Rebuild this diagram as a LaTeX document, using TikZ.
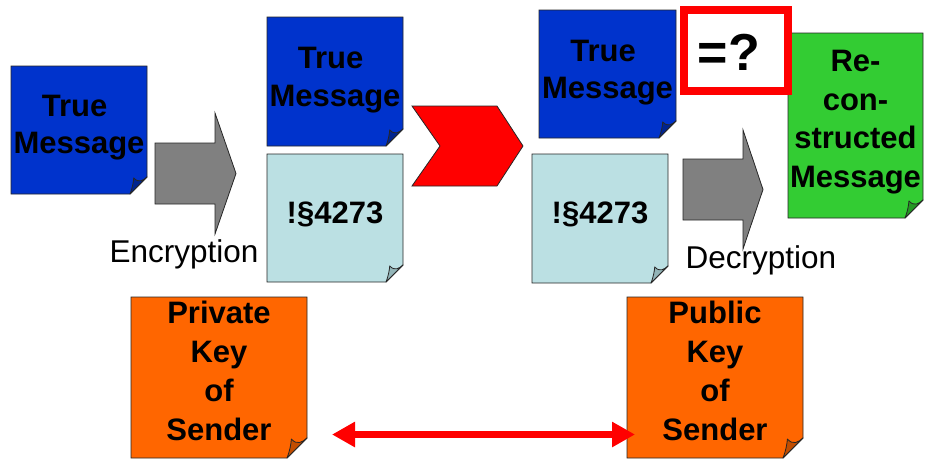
\documentclass[tikz,border=0pt]{standalone}
\usepackage{fontspec}
\setmainfont{Liberation Sans}
\usetikzlibrary{arrows.meta,calc}

\definecolor{msgblue}{HTML}{0033CC}
\definecolor{msgblueflap}{HTML}{00248F}
\definecolor{cipher}{HTML}{BBE0E3}
\definecolor{cipherflap}{HTML}{93B5B8}
\definecolor{recgreen}{HTML}{33CC33}
\definecolor{recgreenflap}{HTML}{239923}
\definecolor{keyorange}{HTML}{FF6600}
\definecolor{keyorangeflap}{HTML}{C24D00}
\definecolor{arrowgray}{HTML}{808080}
\definecolor{alertred}{HTML}{FF0000}

% Sticky note with a curled lower right corner, drawn round an (empty) node
% #1 node name, #2 fill, #3 curl fill, #4 curl size
\newcommand{\foldednote}[4]{%
  \filldraw[notefill=#2] (#1.north west) -- (#1.north east)
    -- ([yshift=#4]#1.south east) -- ([xshift=-#4]#1.south east)
    -- (#1.south west) -- cycle;
  \filldraw[notefill=#3, line join=round] ([xshift=-#4]#1.south east)
    .. controls ([xshift=-0.86*#4,yshift=0.35*#4]#1.south east)
            and ([xshift=-0.8*#4,yshift=0.7*#4]#1.south east)
    .. ([xshift=-0.78*#4,yshift=0.95*#4]#1.south east)
    .. controls ([xshift=-0.5*#4,yshift=0.62*#4]#1.south east)
            and ([xshift=-0.22*#4,yshift=0.8*#4]#1.south east)
    .. ([yshift=#4]#1.south east) -- cycle;
}

\begin{document}
\begin{tikzpicture}[x=1pt,y=-1pt,
  notefill/.style={fill=#1, draw=black!85, line width=0.8pt},
  notebox/.style={inner sep=0pt, outer sep=0pt},
  msgtext/.style={font=\fontsize{31}{37.5}\selectfont\bfseries,
                  align=center, inner sep=0pt, anchor=north},
  keytext/.style={msgtext, font=\fontsize{31}{38.9}\selectfont\bfseries},
  steptext/.style={font=\fontsize{31.5}{37}\selectfont, inner sep=0pt, anchor=north},
  blockarrow/.style={fill=arrowgray, draw=black!85, line width=0.8pt},
  chevron/.style={fill=alertred, draw=black!85, line width=0.8pt},
  checkbox/.style={draw=alertred, line width=8pt, fill=white,
                   minimum width=104pt, minimum height=81pt, inner sep=0pt},
  keyarrow/.style={draw=alertred, line width=7pt,
                   {Triangle[length=23pt,width=24pt]}-{Triangle[length=23pt,width=24pt]}}
]
\useasboundingbox (0,0) rectangle (927,459);

% ---- notes ----
\node[notebox, minimum width=136pt, minimum height=128pt] (plain) at (79,130) {};
\foldednote{plain}{msgblue}{msgblueflap}{17pt}
\node[notebox, minimum width=136pt, minimum height=129pt] (plain2) at (335,81.5) {};
\foldednote{plain2}{msgblue}{msgblueflap}{17pt}
\node[notebox, minimum width=136pt, minimum height=128pt] (cipher1) at (335,218) {};
\foldednote{cipher1}{cipher}{cipherflap}{17pt}
\node[notebox, minimum width=137pt, minimum height=128pt] (plain3) at (607.5,74) {};
\foldednote{plain3}{msgblue}{msgblueflap}{17pt}
\node[notebox, minimum width=136pt, minimum height=129pt] (cipher2) at (600,218.5) {};
\foldednote{cipher2}{cipher}{cipherflap}{17pt}
\node[notebox, minimum width=135pt, minimum height=185pt] (recon) at (855.5,125.5) {};
\foldednote{recon}{recgreen}{recgreenflap}{18pt}
\node[notebox, minimum width=176pt, minimum height=161pt] (privkey) at (219,377.5) {};
\foldednote{privkey}{keyorange}{keyorangeflap}{20pt}
\node[notebox, minimum width=176pt, minimum height=161pt] (pubkey) at (715,377.5) {};
\foldednote{pubkey}{keyorange}{keyorangeflap}{20pt}

% ---- note texts ----
\node[msgtext] (plaint)   at (79,94.6)   {True\kern0.28em\\Message};
\node[msgtext] (plain2t)  at (335,47.2)  {True\kern0.28em\\Message};
\node[msgtext] (cipher1t) at (335,201.2) {!§4273};
\node[msgtext] (plain3t)  at (607.5,39.7) {True\kern0.28em\\Message};
\node[msgtext] (cipher2t) at (600,201.2) {!§4273};
\node[keytext] (recont)   at (855.5,49.6) {Re-\\con-\\structed\\Message};
\node[keytext] (privt)    at (219,301.2) {Private\\Key\\of\\Sender};
\node[keytext] (pubt)     at (715,301.2) {Public\\Key\\of\\Sender};

% ---- comparison box ----
\node[checkbox] (check) at (736,50.5) {};
\node[font=\fontsize{52}{60}\selectfont\bfseries, inner sep=0pt, anchor=north]
  (checkt) at (736,33.8) {=?\kern0.278em};

% ---- block arrows ----
\filldraw[blockarrow] (155,143) -- (215,143) -- (215,113) -- (236,173.5)
  -- (215,234) -- (215,204) -- (155,204) -- cycle;
\filldraw[blockarrow] (683,159) -- (743,159) -- (743,130) -- (763,189.5)
  -- (743,249) -- (743,220) -- (683,220) -- cycle;
\filldraw[chevron] (412,106) -- (497,106) -- (523,146) -- (497,186)
  -- (412,186) -- (440,146) -- cycle;

\node[steptext] (enc) at (184,239.2) {Encryption};
\node[steptext] (dec) at (761,245.8) {Decryption};

% ---- key pair ----
\draw[keyarrow] ($(privkey.south east)+(25,-23.5)$) -- ($(pubkey.south west)+(8,-23.5)$);
\end{tikzpicture}
\end{document}
